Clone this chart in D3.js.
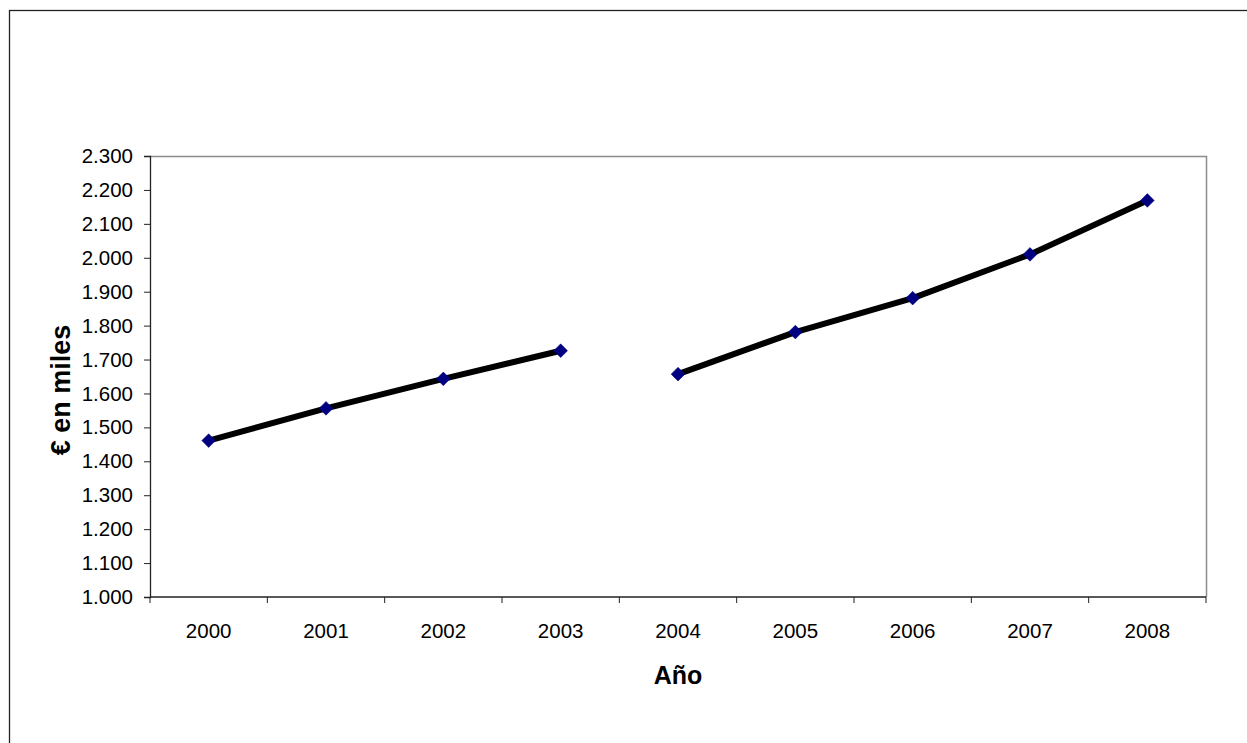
<!DOCTYPE html>
<html>
<head>
<meta charset="utf-8">
<script src="https://cdn.jsdelivr.net/npm/d3@7"></script>
<style>
  body { margin: 0; background: #fff; }
  svg { display: block; font-family: "Liberation Sans", Arial, sans-serif; }
</style>
</head>
<body>
<svg id="chart" width="1247" height="743"></svg>
<script>
// data
const years = ['2000', '2001', '2002', '2003', '2004', '2005', '2006', '2007', '2008'];
// break between 2003 and 2004 -> two separate segments
const segmentA = [1461, 1556, 1643, 1726];
const segmentB = [1657, 1781, 1881, 2010, 2169];
const yTicks = [1000, 1100, 1200, 1300, 1400, 1500, 1600, 1700, 1800, 1900, 2000, 2100, 2200, 2300];

const svg = d3.select('#chart');

// outer chart frame (runs off right/bottom of the window)
svg.append('rect')
    .attr('x', 9.5).attr('y', 10.5)
    .attr('width', 1260).attr('height', 760)
    .attr('fill', 'none')
    .attr('stroke', '#222')
    .attr('stroke-width', 1.3);

const plot = { left: 150, top: 156, right: 1206, bottom: 597 };

const x = d3.scaleBand()
    .domain(years)
    .range([plot.left, plot.right])
    .paddingInner(0).paddingOuter(0);

const y = d3.scaleLinear()
    .domain([1000, 2300])
    .range([plot.bottom, plot.top]);

// plot area border (top/right grey)
svg.append('path')
    .attr('d', `M${plot.left},${plot.top + 0.5}H${plot.right + 0.5}V${plot.bottom}`)
    .attr('fill', 'none')
    .attr('stroke', '#8c8c8c')
    .attr('stroke-width', 1.5);

// y axis
const yAxis = svg.append('g')
    .attr('transform', `translate(${plot.left},0)`)
    .call(d3.axisLeft(y)
        .tickValues(yTicks)
        .tickSize(6)
        .tickPadding(11)
        .tickFormat(d => d3.format(',')(d).replace(',', '.')));
yAxis.select('.domain').attr('stroke', '#222').attr('stroke-width', 1.3);
yAxis.selectAll('.tick line').attr('stroke', '#222');
yAxis.selectAll('text')
    .attr('font-size', 20.5)
    .attr('fill', '#000');

// x axis: ticks sit on category boundaries
const xAxisG = svg.append('g')
    .attr('transform', `translate(0,${plot.bottom})`);
xAxisG.append('line')
    .attr('x1', plot.left).attr('x2', plot.right)
    .attr('stroke', '#222').attr('stroke-width', 1.3);
const bounds = years.map(d => x(d)).concat([x(years[years.length - 1]) + x.bandwidth()]);
xAxisG.selectAll('line.tk')
    .data(bounds)
    .join('line')
    .attr('class', 'tk')
    .attr('x1', d => d).attr('x2', d => d)
    .attr('y1', 0).attr('y2', 6)
    .attr('stroke', '#222');
xAxisG.selectAll('text')
    .data(years)
    .join('text')
    .attr('x', d => x(d) + x.bandwidth() / 2)
    .attr('y', 41)
    .attr('text-anchor', 'middle')
    .attr('font-size', 20.5)
    .attr('fill', '#000')
    .text(d => d);

// axis titles
svg.append('text')
    .attr('x', x('2004') + x.bandwidth() / 2)
    .attr('y', 684)
    .attr('text-anchor', 'middle')
    .attr('font-size', 25)
    .attr('font-weight', 'bold')
    .text('Año');

svg.append('text')
    .attr('transform', 'translate(70,390) rotate(-90)')
    .attr('text-anchor', 'middle')
    .attr('font-size', 27)
    .attr('font-weight', 'bold')
    .text('€ en miles');

// series
const ptsA = segmentA.map((v, i) => ({ year: years[i], v }));
const ptsB = segmentB.map((v, i) => ({ year: years[i + segmentA.length], v }));

const line = d3.line()
    .x(d => x(d.year) + x.bandwidth() / 2)
    .y(d => y(d.v));

[ptsA, ptsB].forEach(seg => {
    svg.append('path')
        .datum(seg)
        .attr('d', line)
        .attr('fill', 'none')
        .attr('stroke', '#000')
        .attr('stroke-width', 6)
        .attr('stroke-linejoin', 'round');
});

const diamond = d3.symbol().type(d3.symbolDiamond2).size(120);
svg.selectAll('path.mk')
    .data(ptsA.concat(ptsB))
    .join('path')
    .attr('class', 'mk')
    .attr('d', diamond)
    .attr('transform', d => `translate(${x(d.year) + x.bandwidth() / 2},${y(d.v)})`)
    .attr('fill', '#000080')
    .attr('stroke', '#000080')
    .attr('stroke-width', 0.5);
</script>
</body>
</html>
